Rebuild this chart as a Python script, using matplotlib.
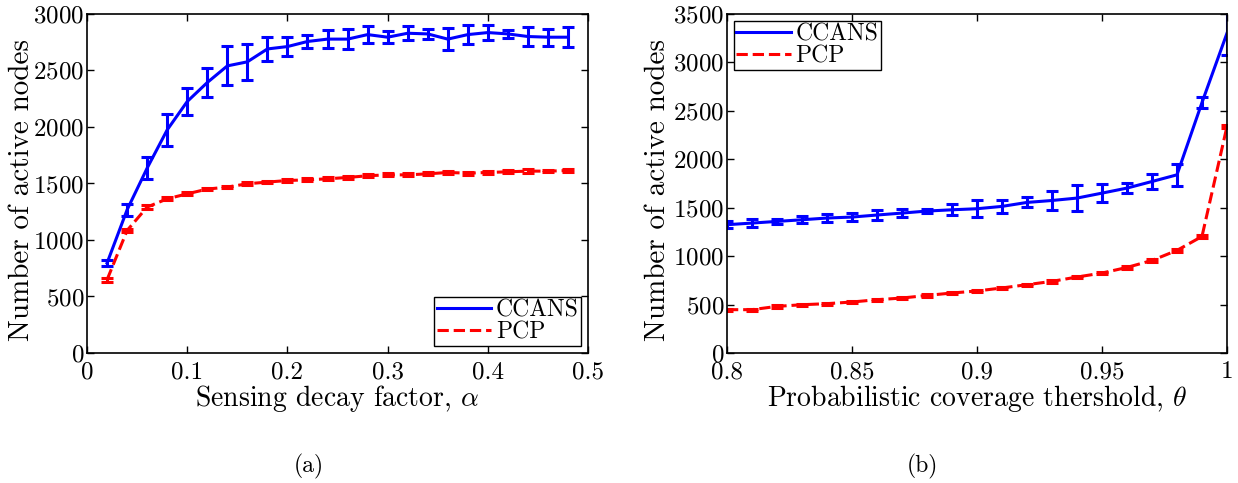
import matplotlib
matplotlib.use('Agg')
import matplotlib.pyplot as plt
from matplotlib.lines import Line2D

plt.rcParams['font.family'] = ['cmr10', 'DejaVu Serif']
plt.rcParams['mathtext.fontset'] = 'cm'
plt.rcParams['axes.formatter.use_mathtext'] = True
plt.rcParams['axes.unicode_minus'] = False

BLUE = '#0000ff'
RED = '#ff0000'

# (a) sensing decay factor
alpha = [0.02, 0.04, 0.06, 0.08, 0.10, 0.12, 0.14, 0.16, 0.18, 0.20, 0.22, 0.24,
         0.26, 0.28, 0.30, 0.32, 0.34, 0.36, 0.38, 0.40, 0.42, 0.44, 0.46, 0.48]
ccans_a = [796, 1267, 1636, 1974, 2225, 2393, 2540, 2576, 2690, 2711, 2756, 2777,
           2777, 2817, 2794, 2829, 2823, 2777, 2817, 2835, 2823, 2800, 2794, 2794]
ccans_a_err = [30, 55, 100, 143, 122, 131, 172, 158, 105, 85, 59, 78,
               91, 74, 53, 63, 47, 97, 85, 65, 37, 85, 75, 90]
pcp_a = [648, 1084, 1291, 1364, 1408, 1450, 1468, 1497, 1512, 1526, 1532, 1541,
         1553, 1568, 1576, 1576, 1585, 1597, 1591, 1597, 1603, 1609, 1609, 1614]
pcp_a_err = [18, 15, 15, 12, 12, 12, 12, 12, 12, 15, 12, 12,
             15, 15, 12, 12, 12, 12, 12, 12, 12, 15, 12, 12]

# (b) probabilistic coverage threshold
theta = [0.80, 0.81, 0.82, 0.83, 0.84, 0.85, 0.86, 0.87, 0.88, 0.89, 0.90,
         0.91, 0.92, 0.93, 0.94, 0.95, 0.96, 0.97, 0.98, 0.99, 1.00]
ccans_b = [1324, 1341, 1358, 1375, 1393, 1403, 1424, 1444, 1465, 1478, 1489,
           1513, 1554, 1574, 1599, 1650, 1702, 1770, 1839, 2585, 3301]
ccans_b_err = [35, 40, 30, 35, 40, 45, 55, 40, 25, 55, 85,
               65, 52, 96, 134, 95, 55, 82, 112, 57, 220]
pcp_b = [447, 447, 481, 498, 509, 526, 550, 567, 594, 619, 640,
         671, 705, 739, 784, 825, 883, 955, 1059, 1203, 2338]
pcp_b_err = [12, 12, 12, 12, 12, 12, 12, 12, 12, 12, 12,
             12, 12, 12, 12, 12, 12, 12, 15, 15, 15]

TICK_FS = 18
LAB_FS = 20
YLAB_FS = 21
LEG_FS = 17

fig = plt.figure(figsize=(12.38, 4.83), dpi=100)
ax1 = fig.add_axes([0.0703, 0.2692, 0.4047, 0.702])
ax2 = fig.add_axes([0.5872, 0.2692, 0.4039, 0.702])


def draw(ax, x, c, ce, p, pe, ylab_x):
    ax.errorbar(x, c, yerr=ce, color=BLUE, lw=2.2, elinewidth=2.2,
                capsize=4.5, capthick=2.2)
    ax.errorbar(x, p, yerr=pe, color=RED, lw=2.2, ls='--', elinewidth=2.2,
                capsize=4.5, capthick=2.2)
    ax.tick_params(direction='in', top=True, right=True, length=5,
                   width=1, labelsize=TICK_FS)
    ax.tick_params(axis='y', pad=2)
    ax.tick_params(axis='x', pad=6)
    for s in ax.spines.values():
        s.set_linewidth(1.2)
    ax.set_ylabel('Number of active nodes', fontsize=YLAB_FS, va='center')
    ax.yaxis.set_label_coords(ylab_x, 0.48)


def legend(ax, loc):
    handles = [Line2D([], [], color=BLUE, lw=2.2),
               Line2D([], [], color=RED, lw=2.2, ls='--')]
    leg = ax.legend(handles, ['CCANS', 'PCP'], loc=loc, fontsize=LEG_FS,
                    frameon=True, fancybox=False, edgecolor='black',
                    framealpha=1, borderpad=0.1, labelspacing=0.0,
                    handlelength=2.3, handletextpad=0.2, borderaxespad=0.3)
    leg.get_frame().set_linewidth(1.0)


draw(ax1, alpha, ccans_a, ccans_a_err, pcp_a, pcp_a_err, -0.130)
ax1.set_xlim(0, 0.5)
ax1.set_ylim(0, 3000)
ax1.set_xticks([0, 0.1, 0.2, 0.3, 0.4, 0.5])
ax1.set_xticklabels(['0', '0.1', '0.2', '0.3', '0.4', '0.5'])
ax1.set_yticks(range(0, 3001, 500))
ax1.set_xlabel(r'Sensing decay factor, $\alpha$', fontsize=LAB_FS, labelpad=0)
legend(ax1, 'lower right')

draw(ax2, theta, ccans_b, ccans_b_err, pcp_b, pcp_b_err, -0.138)
ax2.set_xlim(0.8, 1.0)
ax2.set_ylim(0, 3500)
ax2.set_xticks([0.8, 0.85, 0.9, 0.95, 1.0])
ax2.set_xticklabels(['0.8', '0.85', '0.9', '0.95', '1'])
ax2.set_yticks(range(0, 3501, 500))
ax2.set_xlabel(r'Probabilistic coverage thershold, $\theta$', fontsize=LAB_FS, labelpad=0)
legend(ax2, 'upper left')

fig.text(309 / 1238, 1 - 466 / 483, '(a)', ha='center', va='center', fontsize=17)
fig.text(922 / 1238, 1 - 466 / 483, '(b)', ha='center', va='center', fontsize=17)

fig.savefig('out.png', dpi=100, facecolor='white')
